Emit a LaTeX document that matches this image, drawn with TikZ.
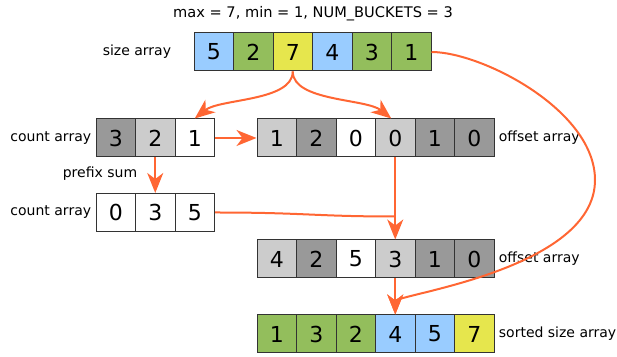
\documentclass[tikz,border=0pt]{standalone}
\usepackage{fontspec}
\setmainfont{DejaVu Sans}
\usetikzlibrary{arrows.meta,positioning}
\definecolor{cblue}{RGB}{153,204,255}
\definecolor{cgreen}{RGB}{147,190,92}
\definecolor{cyellow}{RGB}{230,230,77}
\definecolor{cdark}{RGB}{153,153,153}
\definecolor{clight}{RGB}{204,204,204}
\definecolor{cflow}{RGB}{255,102,51}
\begin{document}
\begin{tikzpicture}[x=.5pt,y=-.5pt,font=\fontsize{7}{9}\selectfont,
cell/.style={draw=black!80,line width=.5pt,minimum width=19.75pt,minimum height=19pt,inner sep=0pt,font=\fontsize{11}{13}\selectfont},
lbl/.style={inner sep=0pt},
flow/.style={draw=cflow,line width=1pt,-{Stealth[length=10pt,width=8pt,inset=3pt]}}]
\useasboundingbox (0,0) rectangle (617,357);
\node[lbl,font=\fontsize{7.3}{9}\selectfont] (title) at (313,14) {max = 7, min = 1, NUM\_BUCKETS = 3};
\foreach \v/\c [count=\i] in {5/cblue,2/cgreen,7/cyellow,4/cblue,3/cgreen,1/cgreen}{\node[cell,fill=\c] (size\i) at ({194+39.5*(\i-.5)},52) {\v};}
\foreach \v/\c [count=\i] in {3/cdark,2/clight,1/white}{\node[cell,fill=\c] (cnt\i) at ({96+39.5*(\i-.5)},138) {\v};}
\foreach \v/\c [count=\i] in {1/clight,2/cdark,0/white,0/clight,1/cdark,0/cdark}{\node[cell,fill=\c] (off\i) at ({257+39.5*(\i-.5)},138) {\v};}
\foreach \v/\c [count=\i] in {0/white,3/white,5/white}{\node[cell,fill=\c] (pre\i) at ({96+39.5*(\i-.5)},212.5) {\v};}
\foreach \v/\c [count=\i] in {4/clight,2/cdark,5/white,3/clight,1/cdark,0/cdark}{\node[cell,fill=\c] (offb\i) at ({257+39.5*(\i-.5)},259) {\v};}
\foreach \v/\c [count=\i] in {1/cgreen,3/cgreen,2/cgreen,4/cblue,5/cblue,7/cyellow}{\node[cell,fill=\c] (sorted\i) at ({257+39.5*(\i-.5)},334) {\v};}
\node[lbl,left=11pt of size1] (sizelbl) {size array};
\node[lbl,left=2pt of cnt1] (cntlbl) {count array};
\node[lbl,right=2pt of off6] (offlbl) {offset array};
\node[lbl] (prefix) at (100,174) {prefix sum};
\node[lbl,left=2pt of pre1] (prelbl) {count array};
\node[lbl,right=2pt of offb6] (offblbl) {offset array};
\node[lbl,right=2pt of sorted6] (sortedlbl) {sorted size array};
\draw[flow] (size3.south) .. controls +(0,30) and +(25,-20) .. (cnt3.north);
\draw[flow] (size3.south) .. controls +(0,30) and +(-25,-20) .. ([xshift=-2pt]off4.north);
\draw[flow] (cnt3.east) -- (off1.west);
\draw[flow] (cnt2.south) -- (pre2.north);
\draw[flow] (off4.south) -- (offb4.north);
\coordinate (merge) at ([yshift=-2pt]off4.south |- pre3.east);
\draw[cflow,line width=1pt] (pre3.east) .. controls +(90,0) and +(-80,0) .. (merge);
\coordinate (swing) at (595,180);
\draw[flow] (size6.east) .. controls +(50,0) and +(0,-70) .. (swing) .. controls +(0,90) and +(0,-20) .. (sorted4.north);
\draw[flow] (offb4.south) -- (sorted4.north);
\end{tikzpicture}
\end{document}
